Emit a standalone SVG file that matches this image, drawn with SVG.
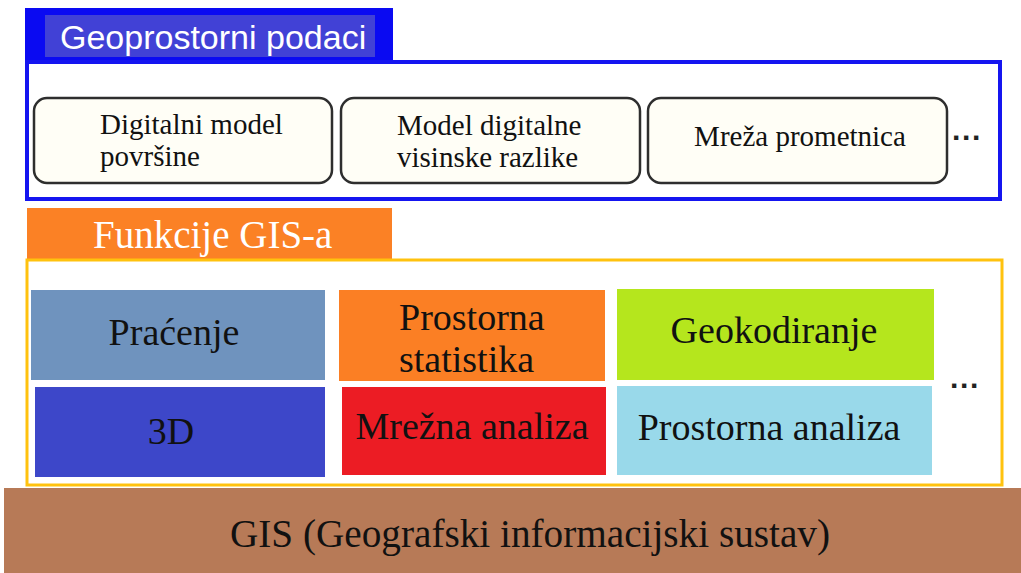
<svg xmlns="http://www.w3.org/2000/svg" width="1021" height="573" viewBox="0 0 1021 573">
<style>
.serif{font-family:"Liberation Serif","Times New Roman",serif;fill:#111}
.rbox{fill:#fffef6;stroke:#2e2e2e;stroke-width:2.5}
.fn{font-family:"Liberation Serif","Times New Roman",serif;font-size:38px;fill:#111}
.sm{font-family:"Liberation Serif","Times New Roman",serif;font-size:29px;fill:#111}
.dots{font-family:"Liberation Sans",Arial,sans-serif;font-size:30px;fill:#222;font-weight:bold}
</style>
<rect width="1021" height="573" fill="#ffffff"/>
<g id="geo-section">
  <rect x="25" y="8" width="368" height="56" fill="#0a0af2"/>
  <rect x="45" y="15" width="330" height="42" fill="#4141d6"/>
  <text x="60" y="49" font-family="Liberation Sans,Arial,sans-serif" font-size="34" fill="#ffffff">Geoprostorni podaci</text>
  <rect x="27" y="62" width="973" height="137" fill="#ffffff" stroke="#1515f0" stroke-width="4"/>
</g>
<g id="node-dmp">
  <rect class="rbox" x="34" y="98" width="298" height="85" rx="13"/>
  <text class="sm" x="100" y="134">Digitalni model</text>
  <text class="sm" x="100" y="166">površine</text>
</g>
<g id="node-mdvr">
  <rect class="rbox" x="341" y="98" width="299" height="85" rx="13"/>
  <text class="sm" x="397" y="135">Model digitalne</text>
  <text class="sm" x="397" y="167">visinske razlike</text>
</g>
<g id="node-mreza">
  <rect class="rbox" x="648" y="98" width="299" height="85" rx="13"/>
  <text class="sm" x="800" y="146" text-anchor="middle">Mreža prometnica</text>
</g>
<text class="dots" x="952" y="148">···</text>
<g id="fn-section">
  <rect x="27" y="208" width="365" height="52" fill="#fb8125"/>
  <text x="93" y="248" font-family="Liberation Serif,Times New Roman,serif" font-size="39" fill="#ffffff">Funkcije GIS-a</text>
  <rect x="27" y="260" width="975" height="225" fill="none" stroke="#ffc20e" stroke-width="3"/>
</g>
<g id="node-pracenje">
  <rect x="31" y="290" width="294" height="90" fill="#6f93be"/>
  <text class="fn" x="174" y="345" text-anchor="middle">Praćenje</text>
</g>
<g id="node-statistika">
  <rect x="339" y="290" width="266" height="91" fill="#fb7f24"/>
  <text class="fn" x="399" y="330">Prostorna</text>
  <text class="fn" x="399" y="372">statistika</text>
</g>
<g id="node-geokodiranje">
  <rect x="617" y="289" width="317" height="91" fill="#b5e61d"/>
  <text class="fn" x="774" y="343" text-anchor="middle">Geokodiranje</text>
</g>
<g id="node-3d">
  <rect x="35" y="387" width="290" height="90" fill="#3d47c9"/>
  <text class="fn" x="171" y="444" text-anchor="middle">3D</text>
</g>
<g id="node-mrezna">
  <rect x="342" y="387" width="264" height="88" fill="#ec1c24"/>
  <text class="fn" x="472" y="439" text-anchor="middle">Mrežna analiza</text>
</g>
<g id="node-prostorna">
  <rect x="617" y="386" width="315" height="89" fill="#99d9ea"/>
  <text class="fn" x="769" y="440" text-anchor="middle">Prostorna analiza</text>
</g>
<text class="dots" x="950" y="396">···</text>
<g id="node-gis">
  <rect x="4" y="488" width="1017" height="85" fill="#b77a57"/>
  <text class="serif" x="230" y="547" font-size="40" textLength="600" lengthAdjust="spacingAndGlyphs">GIS (Geografski informacijski sustav)</text>
</g>
<g id="connectors"></g>
</svg>
